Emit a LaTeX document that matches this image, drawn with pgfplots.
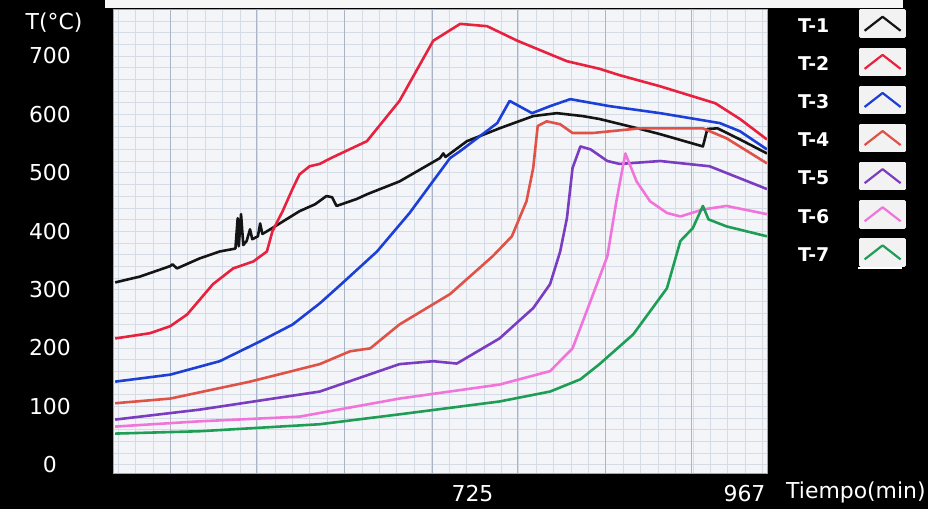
\documentclass[border=0pt]{standalone}
\usepackage{pgfplots}
\pgfplotsset{compat=1.18}
\usepackage{fontspec}
\setmainfont{DejaVu Sans}
\definecolor{cT1}{HTML}{141414}
\definecolor{cT2}{HTML}{E8213F}
\definecolor{cT3}{HTML}{1C3FD6}
\definecolor{cT4}{HTML}{DF5248}
\definecolor{cT5}{HTML}{7A3CC0}
\definecolor{cT6}{HTML}{F074DA}
\definecolor{cT7}{HTML}{1E9E55}
\definecolor{plotbg}{HTML}{F3F5F9}
\definecolor{majgrid}{HTML}{A9B5C5}
\definecolor{mingrid}{HTML}{D6DCE5}
\begin{document}
\begin{tikzpicture}[x=1bp,y=1bp]
\fill[black] (0,0) rectangle (928,509);
\fill[white!93!gray] (105,501) rectangle (903,509);
\begin{axis}[
  at={(100.5,61.2)}, anchor=south west,
  scale only axis, width=654bp, height=464bp,
  xmin=405, xmax=987, ymin=-15, ymax=780,
  xtick={725,967}, ytick={0,100,...,700},
  minor ytick={0,20,...,760}, yminorgrids,
  minor xtick={409.5,425,...,987}, xminorgrids,
  minor grid style={mingrid, line width=0.4bp},
  extra x ticks={456,533,611,689,765,843,920},
  extra x tick labels={},
  extra x tick style={grid=major, major grid style={majgrid, line width=0.8bp}},
  major tick length=0, minor tick length=0,
  axis line style={draw=gray!70, line width=0.8bp},
  axis background/.style={fill=plotbg},
  tick label style={white, font=\fontsize{22}{26}\selectfont},
  /pgf/number format/assume math mode=true,
  yticklabel style={anchor=center, xshift=-63bp},
  xticklabel style={anchor=center, yshift=-20bp},
  every axis plot/.append style={line width=2.6bp, line join=round},
  legend plot pos=right,
  legend cell align=left,
  legend style={at={(1,1)}, anchor=north west, xshift=31bp, yshift=0bp,
    draw=none, fill=none, text=white, inner sep=0pt,
    font=\bfseries\fontsize{19}{22}\selectfont,
    row sep=9.5bp, column sep=30bp,
    nodes={inner sep=0pt}},
  legend image code/.code={
    \fill[white!90!gray] (0bp,-10.5bp) rectangle (44bp,15.5bp);
    \draw[#1, line width=2.2bp] (4bp,-4.5bp) -- (22bp,9.5bp) -- (40bp,-4.5bp);
  },
]
% T-1
\addplot[cT1] coordinates {
(407,312) (429,322) (456,340) (458,343) (462,336) (482,353) (500,365)
(514,370) (516,422) (517,374) (519,429) (521,376) (524,383) (527,403)
(529,386) (534,391) (536,413) (538,395) (545,403) (571,434) (585,446)
(595,460) (600,458) (604,443) (622,455) (631,463) (660,485) (696,525)
(699,533) (701,527) (720,554) (749,576) (779,597) (800,602) (823,597)
(838,592) (874,575) (892,566) (930,545) (934,575) (943,576) (963,557)
(987,533)};
\addlegendentry{T-1}
% T-2
\addplot[cT2] coordinates {
(407,216) (438,225) (456,237) (471,257) (494,309) (512,336) (518,340)
(530,348) (542,365) (547,400) (556,434) (565,473) (571,497) (580,511)
(589,515) (599,525) (631,554) (660,623) (690,726) (714,755) (738,751)
(765,726) (809,691) (838,678) (856,667) (892,648) (941,619) (963,592)
(987,557)};
\addlegendentry{T-2}
% T-3
\addplot[cT3] coordinates {
(407,142) (456,154) (500,177) (536,211) (565,240) (589,276) (607,307)
(640,365) (669,431) (705,525) (714,537) (747,585) (758,623) (778,602)
(794,614) (812,626) (847,614) (892,602) (945,585) (963,571) (987,540)};
\addlegendentry{T-3}
% T-4
\addplot[cT4] coordinates {
(407,105) (456,113) (527,142) (589,172) (616,194) (634,199) (660,240)
(705,292) (743,357) (760,391) (773,451) (779,508) (783,580) (791,588)
(803,583) (814,568) (832,568) (874,576) (930,576) (951,559) (987,516)};
\addlegendentry{T-4}
% T-5
\addplot[cT5] coordinates {
(407,77) (482,94) (589,125) (660,172) (690,177) (711,173) (749,216)
(779,268) (794,309) (803,365) (809,422) (814,508) (821,545) (830,540)
(845,520) (856,515) (892,520) (936,511) (987,472)};
\addlegendentry{T-5}
% T-6
\addplot[cT6] coordinates {
(407,65) (482,74) (571,82) (660,113) (749,137) (794,160) (814,199)
(830,280) (845,357) (853,451) (861,533) (871,485) (883,451) (898,431)
(910,425) (930,437) (951,443) (987,429)};
\addlegendentry{T-6}
% T-7
\addplot[cT7] coordinates {
(407,53) (482,57) (589,69) (660,86) (749,108) (794,125) (821,146)
(838,172) (868,223) (898,302) (910,383) (921,405) (930,443) (935,420)
(951,408) (987,391)};
\addlegendentry{T-7}
\end{axis}
\draw[white, line width=1.5bp] (858,241) -- (902,241);
\node[white, font=\fontsize{22}{26}\selectfont] at (54,486) {T(°C)};
\node[white, anchor=west, inner sep=0pt, font=\fontsize{22}{26}\selectfont] at (786,17) {Tiempo(min)};
\pgfresetboundingbox
\useasboundingbox (0,0) rectangle (928,509);
\end{tikzpicture}
\end{document}
